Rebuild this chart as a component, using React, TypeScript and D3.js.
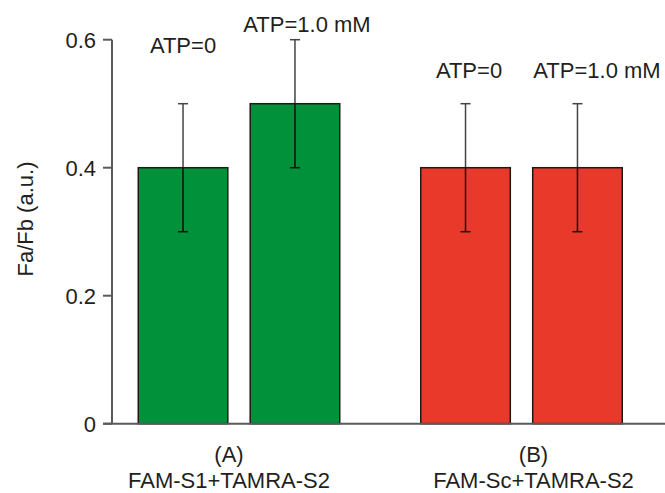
import React from "react";
import * as d3 from "d3";

const groups = ["A", "B"];
const groupLabels = ["(A)", "FAM-S1+TAMRA-S2"];
const groupLabelsB = ["(B)", "FAM-Sc+TAMRA-S2"];
const conditions = ["ATP=0", "ATP=1.0 mM"];
const valuesA = [0.4, 0.5];
const valuesB = [0.4, 0.4];
const errorsA = [0.1, 0.1];
const errorsB = [0.1, 0.1];
const yTicks = [0, 0.2, 0.4, 0.6];
const yTickLabels = ["0", "0.2", "0.4", "0.6"];
const groupColors = ["#00913a", "#e8392a"];
// annotation label placement (data-space y, pixel dx)
const annotY = [[0.579, 0.612], [0.54, 0.54]];
const annotDx = [[0, 12], [3.5, 19.5]];
const groupLabelDx = [-10, 12];

const W = 665;
const H = 493;
const FONT = "'Liberation Sans', Arial, Helvetica, sans-serif";
const TEXT = "#231f20";
const AXIS = "#5a5a5a";
const FS = 22;

export default function App() {
  const y = d3.scaleLinear().domain([0, 0.6]).range([423.7, 39.7]);
  const xGroup = d3.scaleBand<string>().domain(groups).range([97.75, 662.75]).paddingInner(0).paddingOuter(0);
  const xInner = d3.scaleBand<string>().domain(conditions).range([-100.75, 100.75]).paddingInner(0.2).paddingOuter(0);
  const axisX = 112;
  const values = [valuesA, valuesB];
  const errors = [errorsA, errorsB];
  const gLabels = [groupLabels, groupLabelsB];
  const bw = xInner.bandwidth();

  return (
    <svg width={W} height={H} style={{ position: "absolute", left: 0, top: 0 }} fontFamily={FONT}>
      <rect width={W} height={H} fill="#fff" />
      {groups.map((g, gi) => {
        const gc = (xGroup(g) as number) + xGroup.bandwidth() / 2;
        return (
          <g key={g}>
            {conditions.map((c, ci) => {
              const x0 = gc + (xInner(c) as number);
              const cx = x0 + bw / 2;
              const v = values[gi][ci];
              const e = errors[gi][ci];
              return (
                <g key={c}>
                  <line x1={cx} x2={cx} y1={y(v + e)} y2={y(v)} stroke="#444" strokeWidth={1.5} />
                  <line x1={cx - 5} x2={cx + 5} y1={y(v + e)} y2={y(v + e)} stroke="#444" strokeWidth={1.5} />
                  <rect x={x0} y={y(v)} width={bw} height={y(0) - y(v)} fill={groupColors[gi]} stroke="#1a1a1a" strokeWidth={1.5} />
                  <line x1={cx} x2={cx} y1={y(v)} y2={y(v - e)} stroke="#111" strokeWidth={1.5} />
                  <line x1={cx - 5} x2={cx + 5} y1={y(v - e)} y2={y(v - e)} stroke="#111" strokeWidth={1.5} />
                  <text x={cx + annotDx[gi][ci]} y={y(annotY[gi][ci])} textAnchor="middle" fontSize={FS} fill={TEXT}>
                    {c}
                  </text>
                </g>
              );
            })}
            <text x={gc + groupLabelDx[gi]} y={461.5} textAnchor="middle" fontSize={FS} fill={TEXT}>
              {gLabels[gi][0]}
            </text>
            <text x={gc + groupLabelDx[gi]} y={487.5} textAnchor="middle" fontSize={FS} fill={TEXT}>
              {gLabels[gi][1]}
            </text>
          </g>
        );
      })}
      <line x1={axisX} x2={axisX} y1={y(0.6)} y2={y(0)} stroke={AXIS} strokeWidth={2} />
      <line x1={103} x2={W} y1={y(0)} y2={y(0)} stroke={AXIS} strokeWidth={2} />
      {yTicks.map((t, i) => (
        <g key={t}>
          <line x1={103} x2={axisX} y1={y(t)} y2={y(t)} stroke={AXIS} strokeWidth={2} />
          <text x={96} y={y(t)} dy="0.36em" textAnchor="end" fontSize={FS} fill={TEXT}>
            {yTickLabels[i]}
          </text>
        </g>
      ))}
      <text transform={`translate(33,219) rotate(-90)`} textAnchor="middle" fontSize={FS} fill={TEXT}>
        Fa/Fb (a.u.)
      </text>
    </svg>
  );
}
